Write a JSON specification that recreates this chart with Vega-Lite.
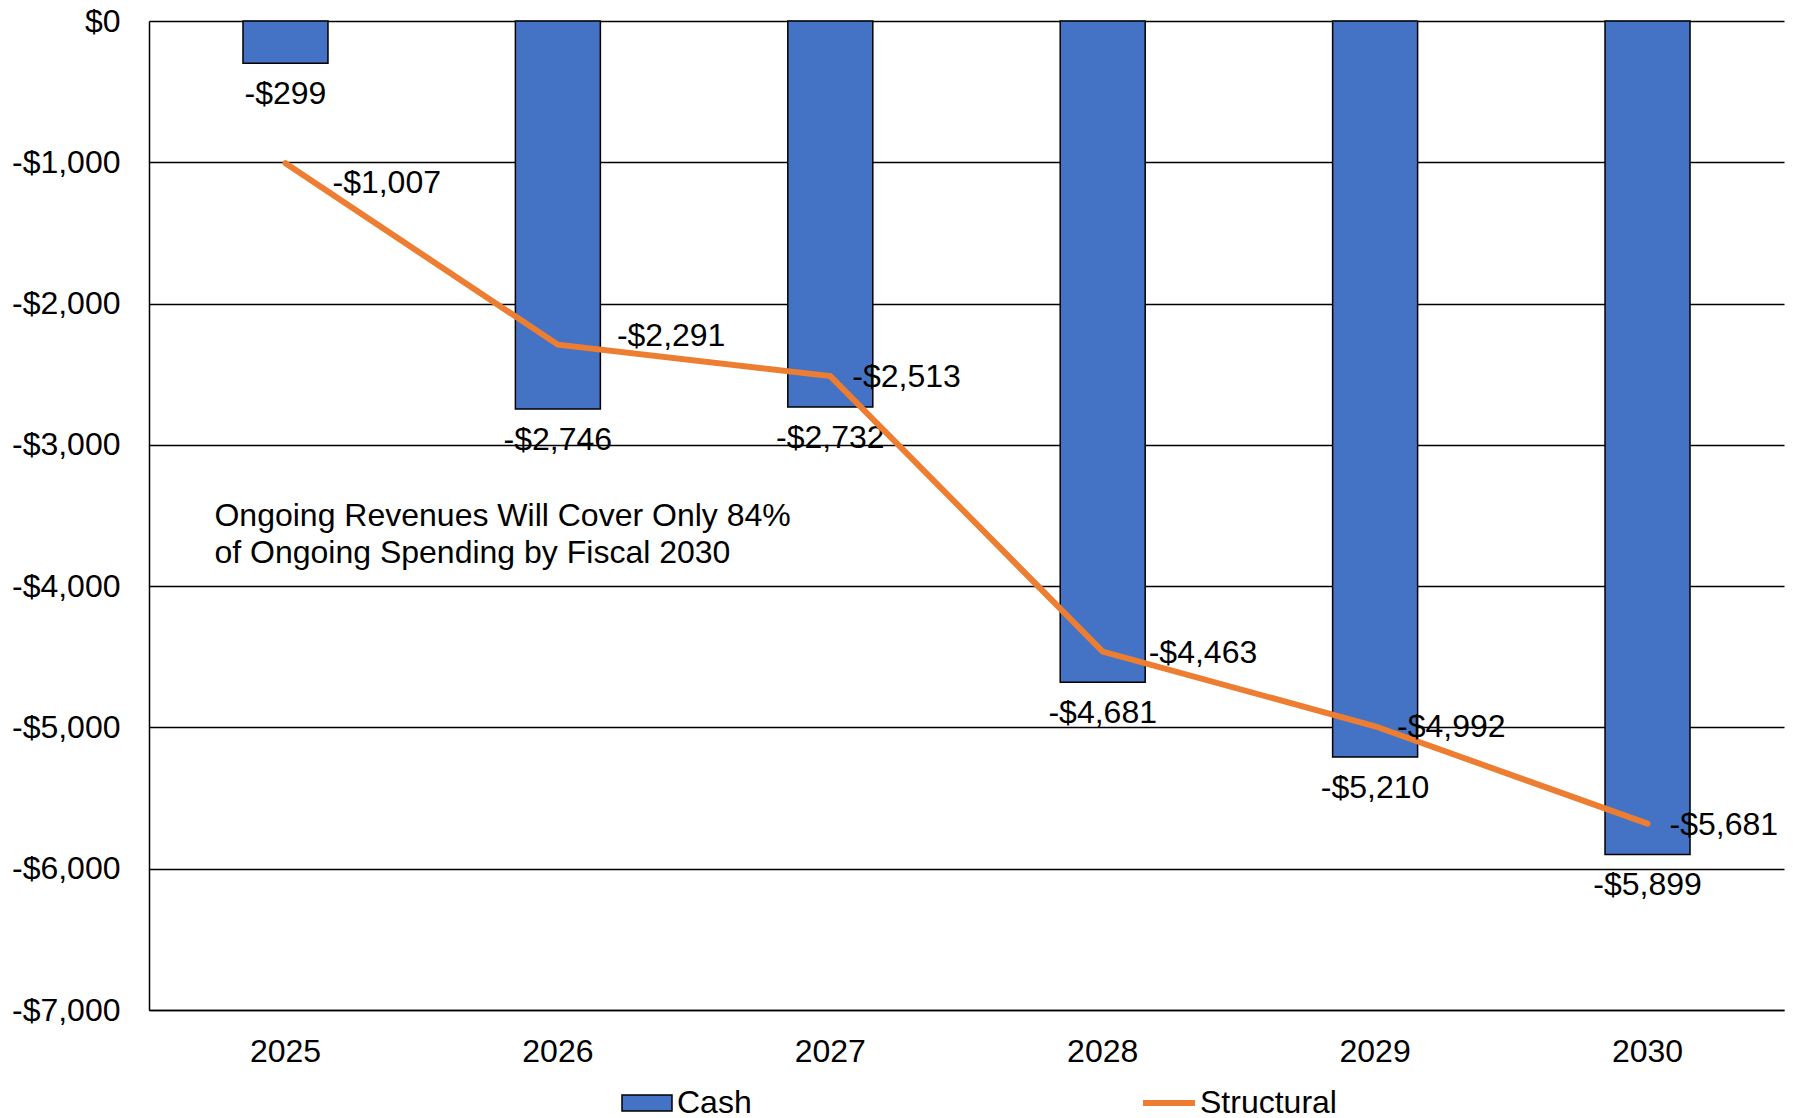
{
  "$schema": "https://vega.github.io/schema/vega-lite/v6.json",
  "autosize": {"type": "none"},
  "padding": {"left": 149, "top": 21, "right": 9, "bottom": 108},
  "width": 1635,
  "height": 989,
  "config": {
    "font": "Liberation Sans",
    "view": {"stroke": null},
    "locale": {
      "number": {"decimal": ".", "thousands": ",", "grouping": [3], "currency": ["$", ""], "minus": "-"}
    },
    "axis": {"labelFont": "Liberation Sans", "labelFontSize": 32, "labelColor": "#000000", "title": null, "ticks": false}
  },
  "datasets": {
    "main": [
      {"year": "2025", "cash": -299, "structural": -1007},
      {"year": "2026", "cash": -2746, "structural": -2291},
      {"year": "2027", "cash": -2732, "structural": -2513},
      {"year": "2028", "cash": -4681, "structural": -4463},
      {"year": "2029", "cash": -5210, "structural": -4992},
      {"year": "2030", "cash": -5899, "structural": -5681}
    ],
    "note": [
      {"year": "2025", "y": -3500, "text": ["Ongoing Revenues Will Cover Only 84%", "of Ongoing Spending by Fiscal 2030"]}
    ]
  },
  "data": {"name": "main"},
  "encoding": {
    "x": {
      "field": "year", "type": "nominal",
      "scale": {"paddingInner": 0.688, "paddingOuter": 0.345},
      "axis": {"labelAngle": 0, "labelPadding": 26, "domainColor": "#000000", "domainWidth": 1.5, "grid": false, "title": null}
    }
  },
  "layer": [
    {
      "mark": {"type": "bar", "stroke": "#000000", "strokeWidth": 1.5},
      "encoding": {
        "y": {
          "field": "cash", "type": "quantitative",
          "scale": {"domain": [-7000, 0], "nice": false},
          "axis": {
            "values": [0, -1000, -2000, -3000, -4000, -5000, -6000, -7000],
            "format": "$,.0f", "labelPadding": 29, "grid": true, "gridColor": "#000000", "gridWidth": 1.5,
            "domainColor": "#000000", "domainWidth": 1.5, "title": null
          }
        },
        "fill": {
          "datum": "Cash",
          "scale": {"range": ["#4472C4"]},
          "legend": {
            "orient": "none", "legendX": 472, "legendY": 1056, "title": null, "padding": 0,
            "symbolType": "M-1,-0.32H1V0.32H-1Z", "symbolSize": 2500, "symbolStrokeColor": "#000000", "symbolStrokeWidth": 1.5,
            "labelFontSize": 32, "labelFont": "Liberation Sans", "labelColor": "#000000", "labelOffset": 4
          }
        }
      }
    },
    {
      "mark": {"type": "text", "fontSize": 32, "color": "#000000", "baseline": "middle", "align": "center", "dy": 31},
      "encoding": {
        "y": {"field": "cash", "type": "quantitative"},
        "text": {"field": "cash", "type": "quantitative", "format": "$,.0f"}
      }
    },
    {
      "mark": {"type": "line", "strokeWidth": 6, "strokeCap": "round", "strokeJoin": "miter"},
      "encoding": {
        "y": {"field": "structural", "type": "quantitative"},
        "stroke": {
          "datum": "Structural",
          "scale": {"range": ["#ED7D31"]},
          "legend": {
            "orient": "none", "legendX": 991, "legendY": 1053, "title": null, "padding": 0,
            "symbolType": "stroke", "symbolSize": 2700, "symbolStrokeWidth": 6,
            "labelFontSize": 32, "labelFont": "Liberation Sans", "labelColor": "#000000", "labelOffset": 2
          }
        }
      }
    },
    {
      "transform": [{"filter": "datum.year == '2025'"}],
      "mark": {"type": "text", "fontSize": 32, "color": "#000000", "baseline": "middle", "align": "left", "dx": 47, "dy": 20},
      "encoding": {
        "y": {"field": "structural", "type": "quantitative"},
        "text": {"field": "structural", "type": "quantitative", "format": "$,.0f"}
      }
    },
    {
      "transform": [{"filter": "datum.year == '2026'"}],
      "mark": {"type": "text", "fontSize": 32, "color": "#000000", "baseline": "middle", "align": "left", "dx": 59, "dy": -9},
      "encoding": {
        "y": {"field": "structural", "type": "quantitative"},
        "text": {"field": "structural", "type": "quantitative", "format": "$,.0f"}
      }
    },
    {
      "transform": [{"filter": "datum.year == '2028'"}],
      "mark": {"type": "text", "fontSize": 32, "color": "#000000", "baseline": "middle", "align": "left", "dx": 46, "dy": 1},
      "encoding": {
        "y": {"field": "structural", "type": "quantitative"},
        "text": {"field": "structural", "type": "quantitative", "format": "$,.0f"}
      }
    },
    {
      "transform": [{"filter": "datum.year == '2027' || datum.year == '2029' || datum.year == '2030'"}],
      "mark": {"type": "text", "fontSize": 32, "color": "#000000", "baseline": "middle", "align": "left", "dx": 22, "dy": 1},
      "encoding": {
        "y": {"field": "structural", "type": "quantitative"},
        "text": {"field": "structural", "type": "quantitative", "format": "$,.0f"}
      }
    },
    {
      "data": {"name": "note"},
      "mark": {"type": "text", "fontSize": 32, "color": "#000000", "baseline": "middle", "align": "left", "dx": -71, "lineHeight": 37},
      "encoding": {
        "x": {"field": "year", "type": "nominal"},
        "y": {"field": "y", "type": "quantitative"},
        "text": {"field": "text"}
      }
    }
  ]
}
